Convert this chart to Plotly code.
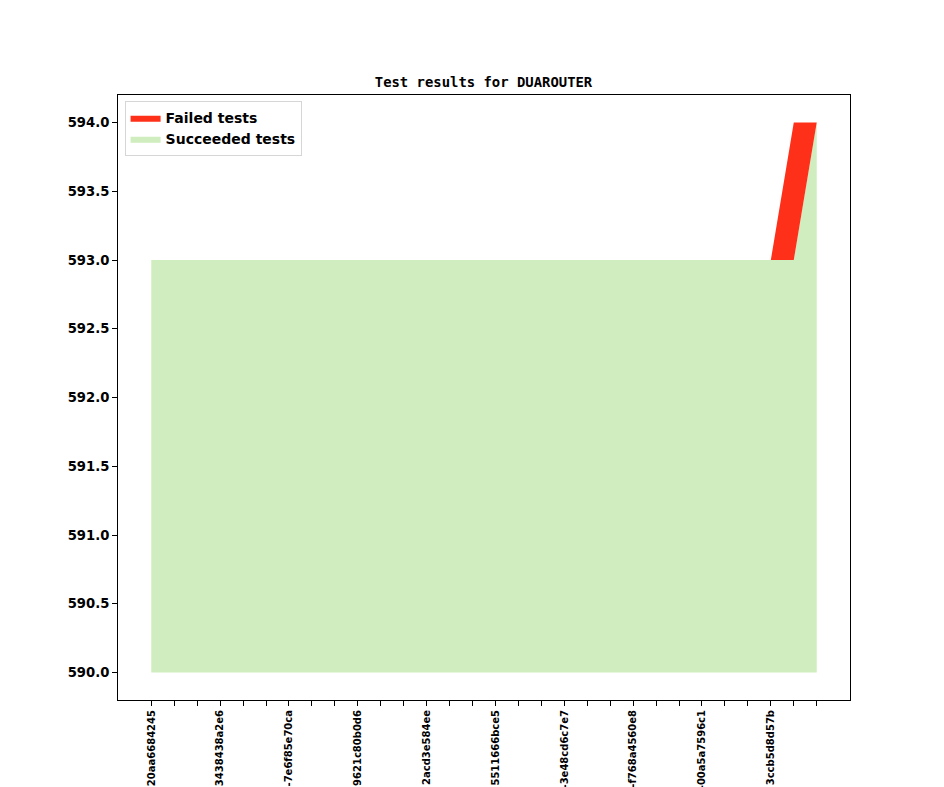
import plotly.graph_objects as go

# ---- data ----
n_points = 30
x_index = list(range(n_points))
succeeded = [593, 593, 593, 593, 593, 593, 593, 593, 593, 593,
             593, 593, 593, 593, 593, 593, 593, 593, 593, 593,
             593, 593, 593, 593, 593, 593, 593, 593, 593, 594]
total = [593, 593, 593, 593, 593, 593, 593, 593, 593, 593,
         593, 593, 593, 593, 593, 593, 593, 593, 593, 593,
         593, 593, 593, 593, 593, 593, 593, 593, 594, 594]
floor_value = 590
labelled_ticks = [0, 3, 6, 9, 12, 15, 18, 21, 24, 27]
labels = ["20aa6684245", "3438438a2e6", "-7e6f85e70ca", "9621c80b0d6",
          "2acd3e584ee", "5511666bce5", "-3e48cd6c7e7", "-f768a4560e8",
          "-00a5a7596c1", "3ccb5d8d57b"]

tick_text = [""] * n_points
for i, lab in zip(labelled_ticks, labels):
    tick_text[i] = lab

RED = "#FF3019"
GREEN = "#CFEDBE"

fig = go.Figure()
fig.add_trace(go.Scatter(x=x_index, y=[floor_value] * n_points, mode="lines",
                         line=dict(width=0, color=GREEN), showlegend=False,
                         hoverinfo="skip"))
fig.add_trace(go.Scatter(x=x_index, y=succeeded, mode="lines", name="Succeeded tests",
                         line=dict(width=0, color=GREEN), fill="tonexty",
                         fillcolor=GREEN))
fig.add_trace(go.Scatter(x=x_index, y=total, mode="lines", name="Failed tests",
                         line=dict(width=0, color=RED), fill="tonexty",
                         fillcolor=RED))

fig.update_layout(
    width=944, height=787,
    margin=dict(l=110, r=102, t=87, b=95, autoexpand=False),
    paper_bgcolor="white", plot_bgcolor="white",
    font=dict(family="DejaVu Sans", color="black"),
    title=dict(text="<b>Test results for DUAROUTER</b>",
               font=dict(family="DejaVu Sans Mono", size=13.9, color="black"),
               x=475.5 / 944, xanchor="center", y=1 - 79 / 787, yanchor="bottom"),
    showlegend=True,
    legend=dict(x=0.009, y=0.99, xanchor="left", yanchor="top",
                traceorder="reversed", bgcolor="rgba(255,255,255,0.8)",
                bordercolor="#d6d6d6", borderwidth=1,
                font=dict(family="DejaVu Sans", size=14, color="black", weight="bold"),
                itemsizing="constant", tracegroupgap=0, itemwidth=30),
)
fig.update_xaxes(
    range=[-1.45, 30.45], tickmode="array", tickvals=x_index, ticktext=tick_text,
    tickangle=-90, ticks="outside", ticklen=5, tickwidth=1, tickcolor="black",
    showline=True, linecolor="black", linewidth=1, mirror=True,
    showgrid=False, zeroline=False, automargin=False,
    tickfont=dict(family="DejaVu Sans", size=10, color="black", weight="bold"),
)
fig.update_yaxes(
    range=[589.8, 594.2], tickmode="array",
    tickvals=[590, 590.5, 591, 591.5, 592, 592.5, 593, 593.5, 594],
    ticktext=["590.0", "590.5", "591.0", "591.5", "592.0", "592.5", "593.0", "593.5", "594.0"],
    ticks="outside", ticklen=5, tickwidth=1, tickcolor="black",
    showline=True, linecolor="black", linewidth=1, mirror=True,
    showgrid=False, zeroline=False, automargin=False,
    tickfont=dict(family="DejaVu Sans", size=13.2, color="black", weight="bold"),
)

fig.write_html("out.html")
